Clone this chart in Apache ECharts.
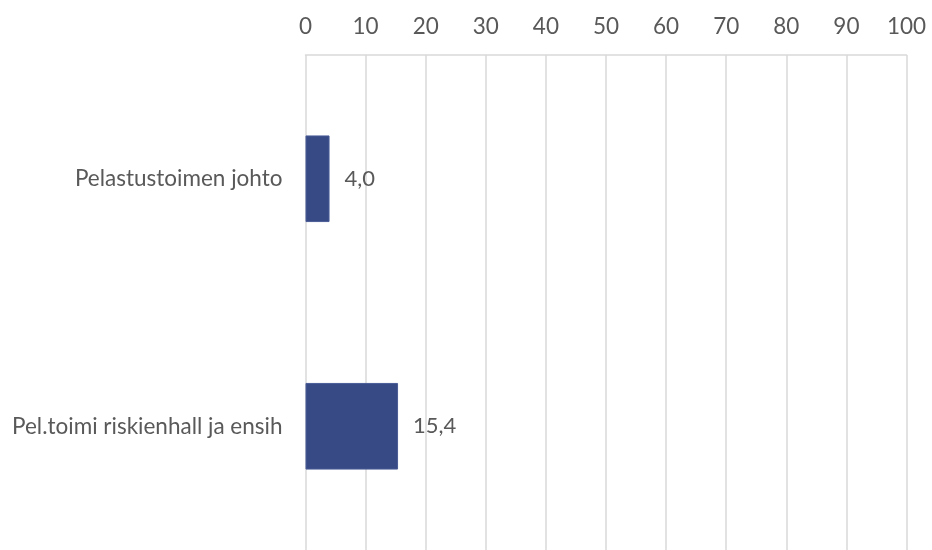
<!DOCTYPE html>
<html>
<head>
<meta charset="utf-8">
<script src="https://cdn.jsdelivr.net/npm/echarts@6/dist/echarts.min.js"></script>
<style>
  html, body { margin: 0; padding: 0; background: #ffffff; }
  #chart { width: 932px; height: 550px; }
</style>
</head>
<body>
<div id="chart"></div>
<script>
// Categories listed top to bottom
const categories = ['Pelastustoimen johto', 'Pel.toimi riskienhall ja ensih'];
const values = [4.0, 15.4];
const axisMin = 0;
const axisMax = 100;
const axisStep = 10;

const fontFamily = "Lato, 'Open Sans', 'Noto Sans', sans-serif";

const chart = echarts.init(document.getElementById('chart'), null, { renderer: 'canvas' });

chart.setOption({
  animation: false,
  backgroundColor: '#ffffff',
  grid: { left: 305.5, top: 55, width: 601, height: 496, containLabel: false },
  xAxis: {
    type: 'value',
    position: 'top',
    min: axisMin,
    max: axisMax,
    interval: axisStep,
    axisLine: { show: true, lineStyle: { color: '#d9d9d9', width: 1.5 } },
    axisTick: { show: false },
    axisLabel: {
      color: '#595959',
      fontSize: 22.5,
      fontFamily: fontFamily,
      margin: 17
    },
    splitLine: { show: true, lineStyle: { color: '#d9d9d9', width: 1.5 } }
  },
  yAxis: {
    type: 'category',
    data: categories,
    inverse: true,
    axisLine: { show: false },
    axisTick: { show: false },
    axisLabel: {
      color: '#595959',
      fontSize: 22.5,
      fontFamily: fontFamily,
      margin: 23
    },
    splitLine: { show: false }
  },
  series: [{
    type: 'bar',
    data: values,
    barWidth: '35%',
    itemStyle: { color: '#374a86', borderColor: '#4a5c96', borderWidth: 1 },
    label: {
      show: true,
      position: 'right',
      distance: 15,
      color: '#595959',
      fontSize: 22,
      fontFamily: fontFamily,
      formatter: p => p.value.toFixed(1).replace('.', ',')
    }
  }]
});
</script>
</body>
</html>
